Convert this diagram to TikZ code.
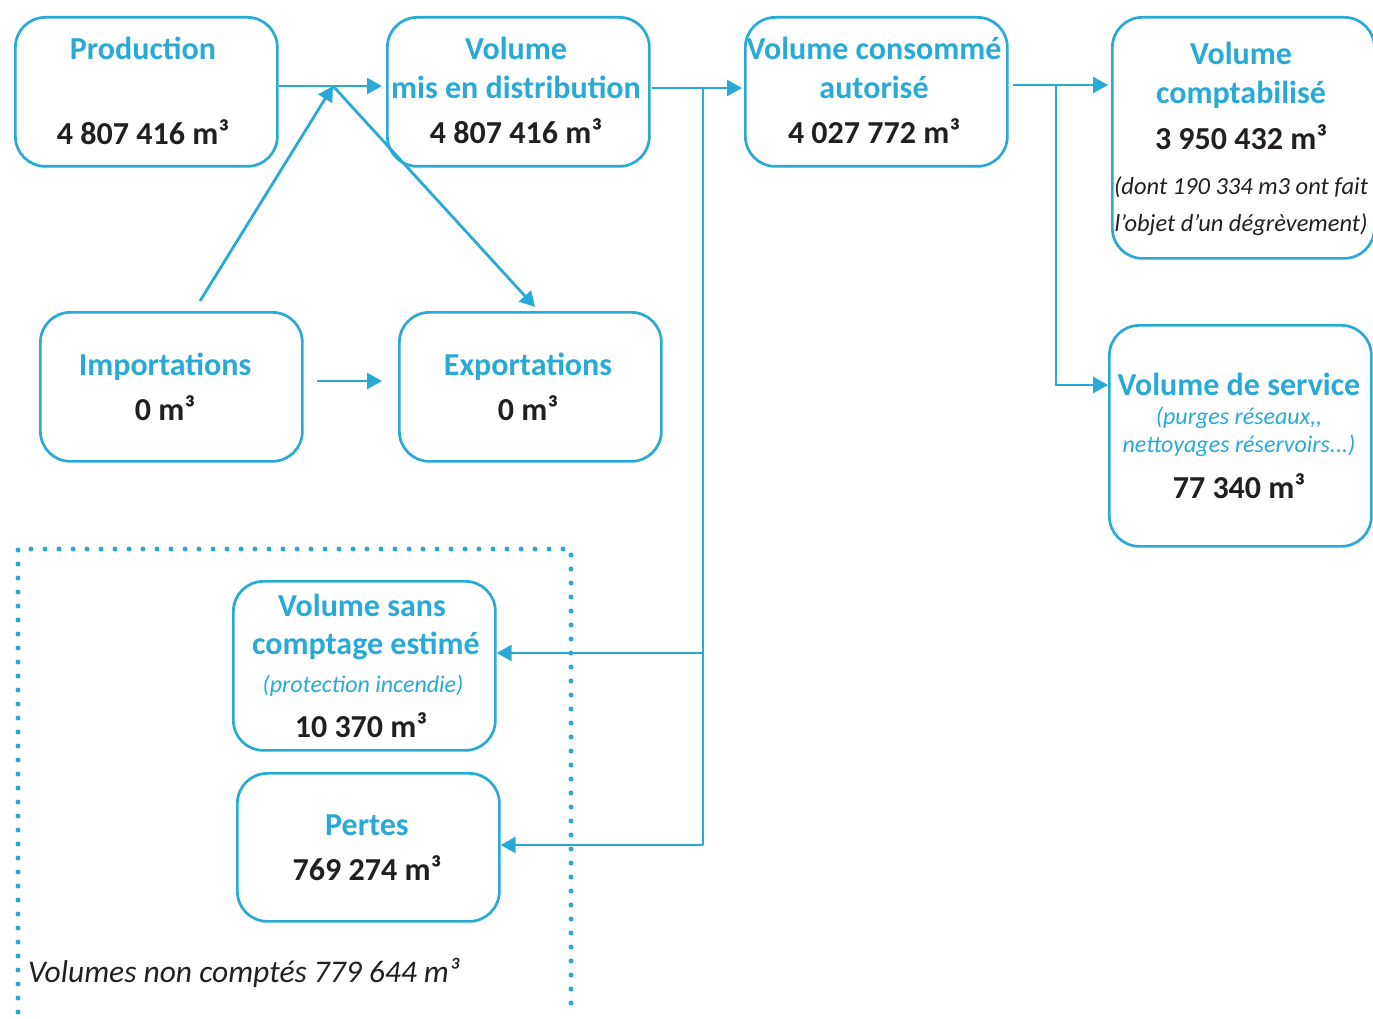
\documentclass[tikz,border=0pt]{standalone}
\usepackage{fontspec}
\setmainfont{Carlito}
\usetikzlibrary{arrows.meta}
\definecolor{eblue}{HTML}{29A9D5}
\definecolor{edark}{HTML}{231F20}
\tikzset{
  box/.style={draw=eblue, line width=2.7pt, rounded corners=30pt, minimum width=262pt, minimum height=149pt, inner sep=0pt},
  ttl/.style={anchor=base, text=eblue, font=\fontsize{32}{36}\selectfont\bfseries, inner sep=0pt},
  num/.style={anchor=base, text=edark, font=\fontsize{32}{36}\selectfont\bfseries, inner sep=0pt},
  note/.style={anchor=base, text=edark, font=\fontsize{24.5}{28}\selectfont\itshape, inner sep=0pt},
  bnote/.style={anchor=base, text=eblue, font=\fontsize{24}{28}\selectfont\itshape, inner sep=0pt},
  conn/.style={draw=eblue, line width=2.8pt},
  arr/.style={conn, -{Triangle[length=15pt,width=16pt]}},
  dots/.style={draw=eblue, line width=5pt, line cap=round, dash pattern=on 0pt off 14pt},
}
\begin{document}
\begin{tikzpicture}[x=1pt,y=-1pt]
\useasboundingbox (0,0) rectangle (1373,1019);
% boxes
\node[box, anchor=north west] (prod) at (14,16) {};
\node[box, anchor=north west] (dist) at (386,16) {};
\node[box, anchor=north west] (cons) at (744,16) {};
\node[box, anchor=north west, minimum height=241pt] (compt) at (1111,16) {};
\node[box, anchor=north west] (imp) at (39,311) {};
\node[box, anchor=north west] (exp) at (398,311) {};
\node[box, anchor=north west, minimum height=221pt] (serv) at (1108,324) {};
\node[box, anchor=north west, minimum height=169pt] (sans) at (232,580) {};
\node[box, anchor=north west, minimum height=148pt] (pert) at (236,772) {};
% texts
\node[ttl] (t1) at (143,60) {Production};
\node[num] (n1) at (143,145) {4 807 416 m³};
\node[ttl] (t2a) at (516,60) {Volume};
\node[ttl] (t2b) at (516,99) {mis en distribution};
\node[num] (n2) at (516,144) {4 807 416 m³};
\node[ttl] (t3a) at (874,60) {Volume consommé};
\node[ttl] (t3b) at (874,99) {autorisé};
\node[num] (n3) at (874,144) {4 027 772 m³};
\node[ttl] (t4a) at (1241,65) {Volume};
\node[ttl] (t4b) at (1241,104) {comptabilisé};
\node[num] (n4) at (1241,150) {3 950 432 m³};
\node[note] (c4a) at (1241,195) {(dont 190 334 m3 ont fait};
\node[note] (c4b) at (1241,232) {l{\char"27}objet d{\char"27}un dégrèvement)};
\node[ttl] (t5) at (165,375) {Importations};
\node[num] (n5) at (165,420) {0 m³};
\node[ttl] (t6) at (528,375) {Exportations};
\node[num] (n6) at (528,420) {0 m³};
\node[ttl] (t7) at (1239,395) {Volume de service};
\node[bnote] (c7a) at (1239,424) {(purges réseaux,{},};
\node[bnote] (c7b) at (1239,452) {nettoyages réservoirs...)};
\node[num] (n7) at (1239,498) {77 340 m³};
\node[ttl] (t8a) at (362,616) {Volume sans};
\node[ttl] (t8b) at (366,654) {comptage estimé};
\node[bnote] (c8) at (363,692) {(protection incendie)};
\node[num] (n8) at (361,737) {10 370 m³};
\node[ttl] (t9) at (367,835) {Pertes};
\node[num] (n9) at (367,880) {769 274 m³};
\node[anchor=base west, text=edark, font=\fontsize{31.5}{34}\selectfont\itshape, inner sep=0pt] (nc) at (28,982) {Volumes non comptés 779 644 m³};
% dotted frame
\coordinate (d1) at (18,1012);
\coordinate (d2) at (18,549);
\coordinate (d3) at (571,549);
\coordinate (d4) at (571,1005);
\draw[dots] (d1) -- (d2) -- (d3) -- (d4);
% connectors
\coordinate (j1) at (333,86);
\coordinate (impTop) at (200,301);
\draw[arr] (prod.east |- j1) -- (382,86) coordinate (e1);
\draw[arr] (impTop) -- (j1);
\draw[arr] (j1) -- (535,307) coordinate (e2);
\draw[arr] (317,381) coordinate (s3) -- (382,381) coordinate (e3);
\coordinate (j2) at (703,88);
\draw[arr] (652,88) coordinate (s4) -- (742,88) coordinate (e4);
\draw[conn] (j2) -- (703,845) coordinate (j3);
\draw[arr] (703,653) coordinate (j4) -- (sans.east |- j4);
\draw[arr] (j3) -- (pert.east |- j3);
\coordinate (j5) at (1056,85);
\draw[arr] (1013,85) coordinate (s5) -- (1108,85) coordinate (e5);
\draw[arr] (j5) -- (1056,385) -- (serv.west |- 0,385);
\end{tikzpicture}
\end{document}
